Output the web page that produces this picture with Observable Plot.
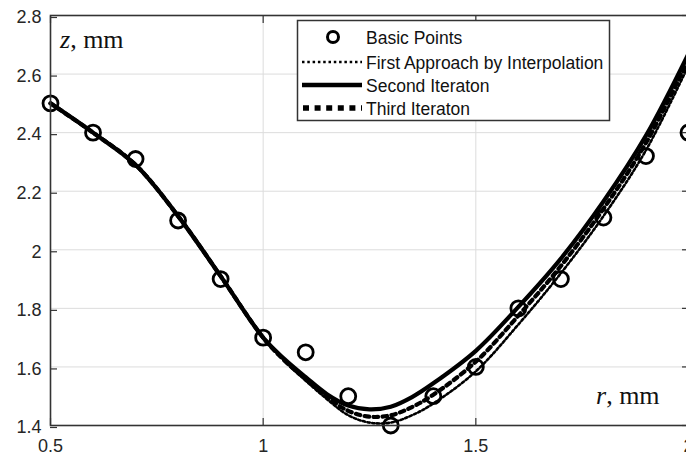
<!DOCTYPE html>
<html><head><meta charset="utf-8">
<script src="https://cdn.jsdelivr.net/npm/d3@7"></script>
<script src="https://cdn.jsdelivr.net/npm/@observablehq/plot@0.6"></script>
<style>
html,body{margin:0;padding:0;background:#fff;overflow:hidden;}
#wrap{position:relative;width:686px;height:457px;overflow:hidden;}
#wrap > svg{display:block}
#overlay{position:absolute;left:0;top:0;pointer-events:none;}
</style></head><body><div id="wrap"></div>
<script>
// Basic points
const basicR = [0.5,0.6,0.7,0.8,0.9,1.0,1.1,1.2,1.3,1.4,1.5,1.6,1.7,1.8,1.9,2.0];
const basicZ = [2.5,2.4,2.31,2.1,1.9,1.7,1.65,1.5,1.4,1.5,1.6,1.8,1.9,2.11,2.32,2.4];
// Curves
const curveR  = [0.5,0.6,0.7,0.8,0.9,1.0,1.05,1.1,1.15,1.2,1.25,1.3,1.35,1.4,1.5,1.6,1.7,1.8,1.9,2.0];
const firstZ  = [2.5,2.4,2.29,2.115,1.91,1.70,1.62,1.553,1.49,1.435,1.41,1.41,1.435,1.475,1.585,1.745,1.92,2.115,2.34,2.63];
const secondZ = [2.5,2.4,2.29,2.115,1.91,1.70,1.627,1.565,1.507,1.468,1.455,1.464,1.497,1.544,1.655,1.805,1.97,2.165,2.39,2.67];
const thirdZ  = [2.5,2.4,2.29,2.115,1.91,1.70,1.622,1.558,1.497,1.45,1.43,1.435,1.463,1.505,1.618,1.775,1.945,2.14,2.365,2.65];
const xTicks = [0.5,1,1.5,2];
const yTicks = [1.4,1.6,1.8,2,2.2,2.4,2.6,2.8];
const legendLabels = ["Basic Points","First Approach by Interpolation","Second Iteraton","Third Iteraton"];

const basic = basicR.map((r,i)=>({r, z: basicZ[i]}));
const mk = arr => curveR.map((r,i)=>({r, z: arr[i]}));
const first = mk(firstZ), second = mk(secondZ), third = mk(thirdZ);

const W = 686, H = 457;
const fmt = d => String(d);
const plot = Plot.plot({
  width: W, height: H,
  marginLeft: 50, marginRight: -2, marginTop: 15, marginBottom: 32,
  style: {fontFamily: "'Liberation Sans', Arial, sans-serif", fontSize: "18px", color: "#262626", background: "white", overflow: "visible"},
  x: {domain: [0.5, 2], label: null},
  y: {domain: [1.4, 2.8], label: null},
  marks: [
    Plot.gridY(yTicks, {stroke: "#dcdcdc", strokeOpacity: 1, strokeWidth: 1}),
    Plot.gridX(xTicks, {stroke: "#dcdcdc", strokeOpacity: 1, strokeWidth: 1}),
    Plot.dot(basic, {x: "r", y: "z", r: 7.5, stroke: "black", strokeWidth: 2.8, fill: "none"}),
    Plot.line(first, {x: "r", y: "z", curve: "catmull-rom", stroke: "black", strokeWidth: 2.6, strokeDasharray: "2.4,2.4"}),
    Plot.line(second, {x: "r", y: "z", curve: "catmull-rom", stroke: "black", strokeWidth: 4.2}),
    Plot.line(third, {x: "r", y: "z", curve: "catmull-rom", stroke: "black", strokeWidth: 4.2, strokeDasharray: "4.5,4.5"}),
    Plot.frame({stroke: "#333", strokeWidth: 1.6}),
    Plot.axisX(xTicks, {anchor: "bottom", tickSize: -7, tickPadding: 21, tickFormat: fmt, stroke: "#333", strokeWidth: 1.2, label: null}),
    Plot.axisX(xTicks, {anchor: "top", tickSize: -7, tickFormat: () => "", stroke: "#333", strokeWidth: 1.2, label: null}),
    Plot.axisY(yTicks, {anchor: "left", tickSize: -7, tickPadding: 16, dy: 2, tickFormat: fmt, stroke: "#333", strokeWidth: 1.2, label: null}),
    Plot.axisY(yTicks, {anchor: "right", tickSize: -7, tickFormat: () => "", stroke: "#333", strokeWidth: 1.2, label: null})
  ]
});
const wrap = document.getElementById("wrap");
wrap.appendChild(plot);

// Overlay: axis titles and legend
const ov = d3.select(wrap).append("svg").attr("id","overlay").attr("width", W).attr("height", H);
const serif = "'Liberation Serif', 'Times New Roman', serif";
const zt = ov.append("text").attr("x", 60).attr("y", 48).attr("font-family", serif).attr("font-size", 26).attr("fill", "#111");
zt.append("tspan").attr("font-style", "italic").text("z");
zt.append("tspan").text(", mm");
const rt = ov.append("text").attr("x", 596).attr("y", 404).attr("font-family", serif).attr("font-size", 26).attr("fill", "#111");
rt.append("tspan").attr("font-style", "italic").text("r");
rt.append("tspan").text(", mm");

const lg = ov.append("g");
lg.append("rect").attr("x", 297.5).attr("y", 20.5).attr("width", 312).attr("height", 100)
  .attr("fill", "white").attr("stroke", "#333").attr("stroke-width", 1.5);
const rowY = [37, 62, 85, 108];
lg.append("circle").attr("cx", 333).attr("cy", rowY[0]).attr("r", 5.5).attr("fill", "none").attr("stroke", "black").attr("stroke-width", 3);
lg.append("line").attr("x1", 302).attr("x2", 362).attr("y1", rowY[1]).attr("y2", rowY[1]).attr("stroke", "black").attr("stroke-width", 2.5).attr("stroke-dasharray", "2.5,2.8");
lg.append("line").attr("x1", 302).attr("x2", 362).attr("y1", rowY[2]).attr("y2", rowY[2]).attr("stroke", "black").attr("stroke-width", 4.5);
lg.append("line").attr("x1", 303).attr("x2", 362).attr("y1", rowY[3]).attr("y2", rowY[3]).attr("stroke", "black").attr("stroke-width", 5.5).attr("stroke-dasharray", "6,5.6");
legendLabels.forEach((t,i) => {
  lg.append("text").attr("x", 366).attr("y", rowY[i] + 6.5)
    .attr("font-family", "'Liberation Sans', Arial, sans-serif").attr("font-size", 17.5).attr("fill", "#111").text(t);
});
</script></body></html>
